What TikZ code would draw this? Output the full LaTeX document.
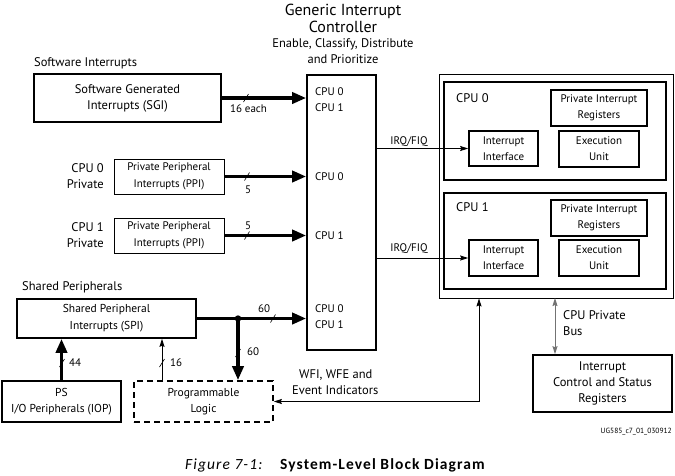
\documentclass[tikz,border=0pt]{standalone}
\usepackage{fontspec}
\setmainfont{PT Sans}
\newfontfamily\capfont[LetterSpace=7]{Carlito}
\usetikzlibrary{arrows.meta}
\newcommand\mytick[1]{\draw[line width=0.6pt] (#1) ++(-2.5,4) -- ++(5,-8);}
\begin{document}
\begin{tikzpicture}[x=1pt,y=-1pt,
  box/.style={draw, line width=1.6pt, inner sep=0pt, align=center, font=\fontsize{12.5}{16}\selectfont},
  thinbox/.style={draw, line width=0.9pt, inner sep=0pt, align=center, font=\fontsize{11}{17}\selectfont},
  ibox/.style={draw, line width=1.6pt, inner sep=0pt, align=center, font=\fontsize{11}{16}\selectfont},
  dbox/.style={box, dashed, dash pattern=on 6pt off 4pt},
  lbl/.style={font=\fontsize{12.5}{16}\selectfont, align=center, inner sep=0pt},
  slbl/.style={font=\fontsize{11}{16}\selectfont, align=center, inner sep=0pt},
  bigarrow/.style={line width=3.6pt, -{Triangle[length=14pt,width=11pt]}},
  thinarrow/.style={line width=0.9pt, -{Stealth[length=8pt,width=5pt,inset=1pt]}},
]
\useasboundingbox (0,0) rectangle (675,475);

% titles
\node[font=\fontsize{16}{17}\selectfont, align=center, inner sep=0pt] (title) at (343,18) {Generic Interrupt\\Controller};
\node[lbl] (sub) at (343,51) {Enable, Classify, Distribute\\and Prioritize};
\node[lbl, anchor=west] (swlbl) at (34,63) {Software Interrupts};
\node[lbl, anchor=west] (shlbl) at (22,287) {Shared Peripherals};
\node[lbl, align=right, anchor=east] (c0p) at (104,176) {CPU 0\\Private};
\node[lbl, align=right, anchor=east] (c1p) at (104,235) {CPU 1\\Private};

% left boxes
\node[box, minimum width=187pt, minimum height=48pt] (sgi) at (127.5,98) {Software Generated\\Interrupts (SGI)};
\node[thinbox, minimum width=110pt, minimum height=35pt] (ppi0) at (169,176.5) {Private Peripheral\\Interrupts (PPI)};
\node[thinbox, minimum width=110pt, minimum height=35pt] (ppi1) at (169,235.5) {Private Peripheral\\Interrupts (PPI)};
\node[box, font=\fontsize{11.5}{17}\selectfont, minimum width=179pt, minimum height=39pt] (spi) at (106.5,318.5) {Shared Peripheral\\Interrupts (SPI)};
\node[box, font=\fontsize{11.5}{16}\selectfont, minimum width=119pt, minimum height=41pt] (iop) at (61.5,401.5) {PS\\I/O Peripherals (IOP)};
\node[dbox, font=\fontsize{11.5}{16}\selectfont, minimum width=139pt, minimum height=41pt] (pl) at (203.5,401.5) {Programmable\\Logic};

% GIC
\node[box, minimum width=69pt, minimum height=275pt] (gic) at (341.5,212.5) {};
\node[slbl, anchor=west, align=left] (g1) at (315,100) {CPU 0\\CPU 1};
\node[slbl, anchor=west] (g2) at (315,177) {CPU 0};
\node[slbl, anchor=west] (g3) at (315,236) {CPU 1};
\node[slbl, anchor=west, align=left] (g4) at (315,317) {CPU 0\\CPU 1};

% CPU cluster
\node[draw, line width=0.8pt, minimum width=234pt, minimum height=224pt, inner sep=0pt] (outer) at (556,186) {};
\node[box, minimum width=222pt, minimum height=98pt] (cpu0) at (555,131) {};
\node[box, minimum width=222pt, minimum height=96pt] (cpu1) at (555,241) {};
\node[lbl, anchor=west] (c0l) at (456,98) {CPU 0};
\node[lbl, anchor=west] (c1l) at (456,207) {CPU 1};
\node[ibox, minimum width=96pt, minimum height=36pt] (pir0) at (599,108) {Private Interrupt\\Registers};
\node[ibox, minimum width=69pt, minimum height=35pt] (ii0) at (503.5,148.5) {Interrupt\\Interface};
\node[ibox, minimum width=80pt, minimum height=36pt] (eu0) at (599,149) {Execution\\Unit};
\node[ibox, minimum width=96pt, minimum height=36pt] (pir1) at (599,218) {Private Interrupt\\Registers};
\node[ibox, minimum width=69pt, minimum height=36pt] (ii1) at (503.5,258) {Interrupt\\Interface};
\node[ibox, minimum width=80pt, minimum height=36pt] (eu1) at (599,258) {Execution\\Unit};

\node[box, minimum width=139pt, minimum height=57pt] (ics) at (602.5,383.5) {Interrupt\\Control and Status\\Registers};

% connectors
\draw[bigarrow] (sgi.east) -- (gic.west |- sgi.east);
\draw[bigarrow] (ppi0.east) -- (gic.west |- ppi0.east);
\draw[bigarrow] (ppi1.east) -- (gic.west |- ppi1.east);
\draw[bigarrow] (spi.east) -- (gic.west |- spi.east);
\coordinate (dot) at (238,318.5);
\fill (dot) circle (3.2pt);
\draw[bigarrow] (dot) -- (dot |- pl.north);
\draw[bigarrow] (iop.north) -- (iop.north |- spi.south);
\coordinate (plt) at (162,381);
\draw[thinarrow] (plt) -- (plt |- spi.south);

\draw[thinarrow] (gic.east |- ii0.west) -- (ii0.west);
\draw[thinarrow] (gic.east |- ii1.west) -- (ii1.west);

\coordinate (wfi) at (479,401.5);
\draw[thinarrow] (wfi) -- (wfi |- outer.south);
\draw[thinarrow] (wfi) -- (pl.east);
\coordinate (bus) at (555,298);
\draw[line width=1pt, draw=black!55, {Stealth[length=8pt,width=5pt,inset=1pt]}-{Stealth[length=8pt,width=5pt,inset=1pt]}] (bus) -- (bus |- ics.north);

% ticks
\mytick{246,98}
\mytick{247,176.5}
\mytick{247,235.5}
\mytick{273,318.5}
\mytick{238,353}
\mytick{62,363}
\mytick{162,363}

% labels on connectors
\node[slbl] (l16e) at (248.5,109) {16 each};
\node[slbl] (l5a) at (248,190) {5};
\node[slbl] (l5b) at (248,226) {5};
\node[slbl] (l60a) at (264,309) {60};
\node[slbl] (l60b) at (253,352) {60};
\node[slbl] (l44) at (75,363) {44};
\node[slbl] (l16) at (176,363) {16};
\node[slbl] (irq0) at (409,142) {IRQ/FIQ};
\node[slbl] (irq1) at (409,249) {IRQ/FIQ};
\node[lbl, align=left, anchor=west] (wfil) at (292,382) {\hspace*{7pt}WFI, WFE and\\Event Indicators};
\node[lbl, align=left, anchor=west] (busl) at (563,323) {CPU Private\\Bus};

\node[font=\fontsize{7.5}{8}\selectfont, anchor=east, inner sep=0pt] (ug) at (672,432) {UG585\_c7\_01\_030912};
\node[font=\capfont\fontsize{15.5}{16}\selectfont\itshape, anchor=west, inner sep=0pt] (fig) at (185,465) {Figure 7-1:};
\node[font=\capfont\fontsize{15.5}{16}\selectfont\bfseries, anchor=west, inner sep=0pt] (cap) at (280,465) {System-Level Block Diagram};
\end{tikzpicture}
\end{document}
